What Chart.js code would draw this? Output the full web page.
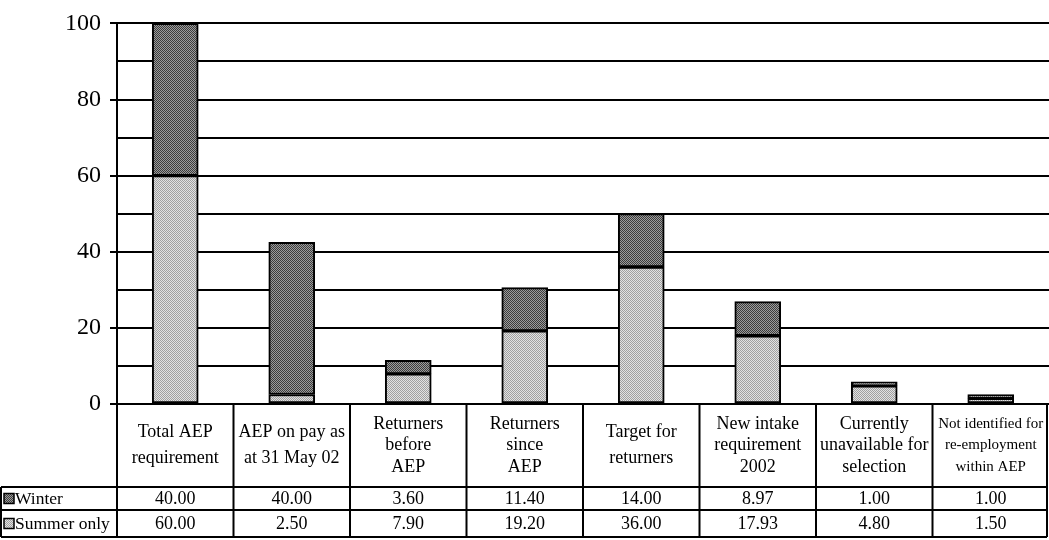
<!DOCTYPE html>
<html>
<head>
<meta charset="utf-8">
<script src="https://cdn.jsdelivr.net/npm/chart.js@4"></script>
<style>
  html, body { margin: 0; padding: 0; background: #fff; }
  #wrap { width: 1049px; height: 540px; position: relative; }
</style>
</head>
<body>
<div id="wrap"><canvas id="c" width="1049" height="540"></canvas></div>
<script>
// Category labels, split into the lines shown in the table header cells
const categories = [
  ["Total AEP", "requirement"],
  ["AEP on pay as", "at 31 May 02"],
  ["Returners", "before", "AEP"],
  ["Returners", "since", "AEP"],
  ["Target for", "returners"],
  ["New intake", "requirement", "2002"],
  ["Currently", "unavailable for", "selection"],
  ["Not identified for", "re-employment", "within AEP"]
];
const winter = [40.00, 40.00, 3.60, 11.40, 14.00, 8.97, 1.00, 1.00];
const summerOnly = [60.00, 2.50, 7.90, 19.20, 36.00, 17.93, 4.80, 1.50];
const seriesNames = ["Winter", "Summer only"];
const yTicks = [0, 20, 40, 60, 80, 100];

const SERIF = '"Liberation Serif", "Times New Roman", serif';

// Ordered-dither fill so the bars get a stippled grey texture
function dither(dark, light) {
  const bayer = [0, 8, 2, 10, 12, 4, 14, 6, 3, 11, 1, 9, 15, 7, 13, 5];
  const c = document.createElement('canvas');
  c.width = 4; c.height = 4;
  const g = c.getContext('2d');
  for (let i = 0; i < 16; i++) {
    g.fillStyle = bayer[i] < 8 ? dark : light;
    g.fillRect(i % 4, Math.floor(i / 4), 1, 1);
  }
  return g.createPattern(c, 'repeat');
}
const ctx = document.getElementById('c').getContext('2d');
const winterFill = dither('#3c3c3c', '#9c9c9c');
const summerFill = dither('#a0a0a0', '#e2e2e2');
const fills = [winterFill, summerFill];

// Data table underneath the plot: header row with categories, one row per series
const tablePlugin = {
  id: 'dataTable',
  afterDraw(chart) {
    const g = chart.ctx;
    const area = chart.chartArea;
    const n = categories.length;
    const colW = (area.right - area.left) / n;
    const top = area.bottom;
    const headBottom = top + 83;
    const row1Bottom = headBottom + 23;
    const row2Bottom = row1Bottom + 27;
    const right = area.right - 2;

    g.save();
    g.strokeStyle = '#000';
    g.lineWidth = 2;
    g.beginPath();
    // horizontal rules
    g.moveTo(area.left, top); g.lineTo(right, top);
    [headBottom, row1Bottom, row2Bottom].forEach(y => { g.moveTo(1, y); g.lineTo(right, y); });
    // column separators
    for (let i = 0; i <= n; i++) {
      const x = Math.min(area.left + i * colW, right);
      g.moveTo(x, top); g.lineTo(x, row2Bottom);
    }
    g.moveTo(1, headBottom); g.lineTo(1, row2Bottom);
    g.stroke();

    g.fillStyle = '#000';
    g.textAlign = 'center';
    g.textBaseline = 'middle';
    const headMid = (top + headBottom) / 2;
    for (let i = 0; i < n; i++) {
      const cx = chart.scales.x.getPixelForValue(i);
      const lines = categories[i];
      const lh = lines.length === 2 ? 26 : 21.5;
      const size = i === n - 1 ? 15 : 18;
      g.font = size + 'px ' + SERIF;
      lines.forEach((t, k) => {
        g.fillText(t, cx, headMid + (k - (lines.length - 1) / 2) * lh, colW - 4);
      });
      g.font = '18px ' + SERIF;
      g.fillText(winter[i].toFixed(2), cx, (headBottom + row1Bottom) / 2 + 1);
      g.fillText(summerOnly[i].toFixed(2), cx, (row1Bottom + row2Bottom) / 2 + 1);
    }

    // series keys in the first column
    const rows = [[headBottom, row1Bottom], [row1Bottom, row2Bottom]];
    g.textAlign = 'left';
    g.font = '17.5px ' + SERIF;
    rows.forEach(([a, b], k) => {
      const my = (a + b) / 2;
      g.fillStyle = fills[k];
      g.fillRect(4, my - 5, 10, 10);
      g.lineWidth = 1.5;
      g.strokeRect(4, my - 5, 10, 10);
      g.fillStyle = '#000';
      g.fillText(seriesNames[k], 15, my + 1);
    });
    g.restore();
  }
};

new Chart(ctx, {
  type: 'bar',
  data: {
    labels: categories.map(c => c.join(' ')),
    datasets: [
      { label: seriesNames[1], data: summerOnly, backgroundColor: summerFill },
      { label: seriesNames[0], data: winter, backgroundColor: winterFill }
    ]
  },
  options: {
    responsive: false,
    animation: false,
    devicePixelRatio: 1,
    layout: { padding: { top: 22, bottom: 136, left: 0, right: 0 } },
    datasets: {
      bar: {
        borderColor: '#000',
        borderWidth: 2,
        borderSkipped: false,
        barThickness: 46
      }
    },
    plugins: {
      legend: { display: false },
      tooltip: { enabled: false }
    },
    scales: {
      x: {
        stacked: true,
        display: false
      },
      y: {
        stacked: true,
        min: 0,
        max: 100,
        afterFit(s) { s.width = 117; },
        afterBuildTicks(s) {
          s.ticks = [];
          for (let v = 0; v <= 100; v += 10) s.ticks.push({ value: v });
        },
        ticks: {
          color: '#000',
          padding: 9,
          font: { family: SERIF, size: 24 },
          callback: v => (yTicks.includes(v) ? String(v) : '')
        },
        grid: {
          color: '#000',
          lineWidth: 2,
          tickLength: 7,
          tickColor: c => (yTicks.includes(c.tick.value) ? '#000' : 'rgba(0,0,0,0)')
        },
        border: { display: true, color: '#000', width: 2 }
      }
    }
  },
  plugins: [tablePlugin]
});
</script>
</body>
</html>
